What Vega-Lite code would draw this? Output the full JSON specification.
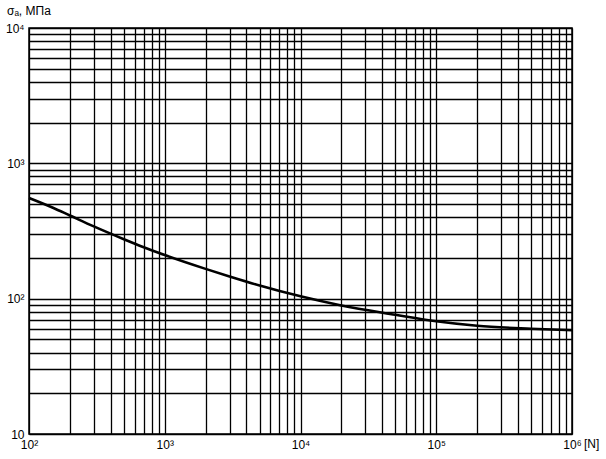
{
  "$schema": "https://vega.github.io/schema/vega-lite/v6.json",
  "width": 543,
  "height": 406,
  "autosize": "none",
  "padding": {"left": 29, "top": 28, "right": 34, "bottom": 25},
  "background": "white",
  "config": {
    "font": "Liberation Sans",
    "view": {"stroke": "black", "strokeWidth": 1.5},
    "axis": {
      "grid": true, "gridColor": "black", "gridOpacity": 1, "gridWidth": 1.3,
      "ticks": false, "tickSize": 0, "domain": false,
      "labelFont": "Liberation Sans", "labelFontSize": 12, "labelColor": "black",
      "labelOverlap": false, "labelBound": false, "labelFlush": false
    }
  },
  "title": {
    "text": "σₐ, МПа",
    "anchor": "start",
    "frame": "group",
    "dx": -22,
    "offset": 4,
    "fontSize": 12,
    "fontWeight": "normal",
    "font": "Liberation Sans",
    "color": "black"
  },
  "data": {
    "values": [
      {"N": 100, "sigma": 555},
      {"N": 150, "sigma": 470},
      {"N": 200, "sigma": 412},
      {"N": 300, "sigma": 342},
      {"N": 500, "sigma": 275},
      {"N": 700, "sigma": 240},
      {"N": 1000, "sigma": 210},
      {"N": 2000, "sigma": 166},
      {"N": 3000, "sigma": 146},
      {"N": 5000, "sigma": 125},
      {"N": 10000, "sigma": 104},
      {"N": 20000, "sigma": 89},
      {"N": 50000, "sigma": 76},
      {"N": 100000, "sigma": 68},
      {"N": 200000, "sigma": 63},
      {"N": 500000, "sigma": 60},
      {"N": 1000000, "sigma": 58.5}
    ]
  },
  "layer": [
    {
      "mark": {"type": "line", "color": "black", "strokeWidth": 2.6, "interpolate": "monotone"},
      "encoding": {
        "x": {
          "field": "N", "type": "quantitative",
          "scale": {"type": "log", "domain": [100, 1000000], "nice": false},
          "axis": {
            "title": null,
            "labelPadding": 5,
            "values": [100,200,300,400,500,600,700,800,900,1000,2000,3000,4000,5000,6000,7000,8000,9000,10000,20000,30000,40000,50000,60000,70000,80000,90000,100000,200000,300000,400000,500000,600000,700000,800000,900000,1000000],
            "labelExpr": "datum.value == 100 ? '10²' : datum.value == 1000 ? '10³' : datum.value == 10000 ? '10⁴' : datum.value == 100000 ? '10⁵' : datum.value == 1000000 ? '10⁶' : ''"
          }
        },
        "y": {
          "field": "sigma", "type": "quantitative",
          "scale": {"type": "log", "domain": [10, 10000], "nice": false},
          "axis": {
            "title": null,
            "labelPadding": 5,
            "values": [10,20,30,40,50,60,70,80,90,100,200,300,400,500,600,700,800,900,1000,2000,3000,4000,5000,6000,7000,8000,9000,10000],
            "labelExpr": "datum.value == 10 ? '10' : datum.value == 100 ? '10²' : datum.value == 1000 ? '10³' : datum.value == 10000 ? '10⁴' : ''"
          }
        }
      }
    },
    {
      "data": {"values": [{"N": 1000000, "sigma": 10, "t": "[N]"}]},
      "mark": {"type": "text", "align": "left", "baseline": "top", "dx": 12, "dy": 5, "fontSize": 12, "font": "Liberation Sans", "color": "black"},
      "encoding": {
        "x": {"field": "N", "type": "quantitative"},
        "y": {"field": "sigma", "type": "quantitative"},
        "text": {"field": "t"}
      }
    }
  ]
}
